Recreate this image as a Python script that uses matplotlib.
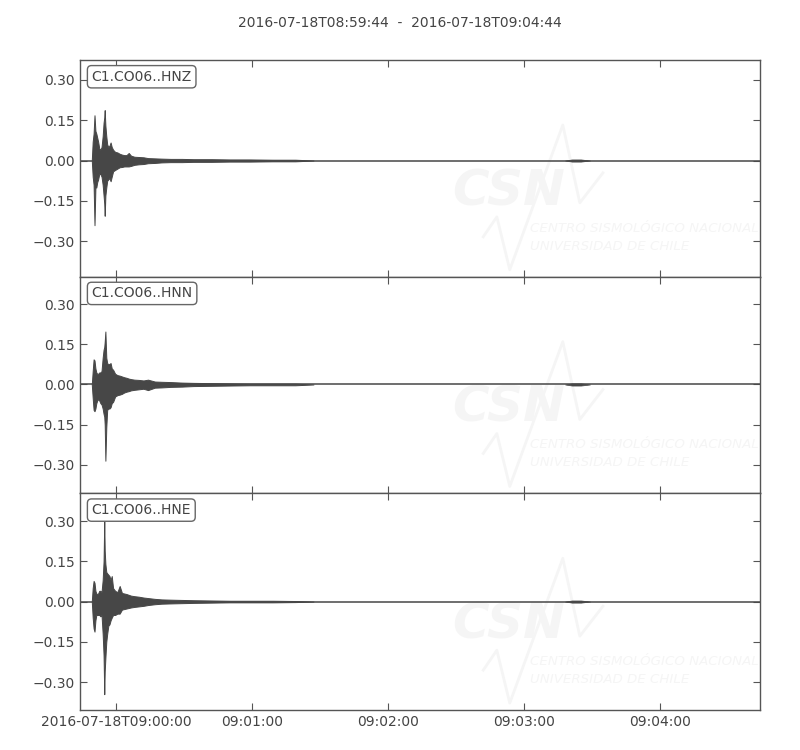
import datetime as dt
import matplotlib
matplotlib.use("Agg")
import matplotlib.pyplot as plt
import matplotlib.dates as mdates

# --- data ----------------------------------------------------------------
t0 = dt.datetime(2016, 7, 18, 8, 59, 44)
trace_len_s = 300
channels = ["C1.CO06..HNZ", "C1.CO06..HNN", "C1.CO06..HNE"]

# envelope sample times, seconds after t0
env_t = [5.2, 5.6, 6.0, 6.4, 6.8, 7.2, 7.6, 8.0, 8.5, 9.0, 9.5, 10.0, 10.4, 10.7,
         10.9, 11.2, 11.6, 12.0, 12.5, 13.0, 13.5, 14.0, 14.6, 15.5, 16.5, 17.5,
         18.5, 19.5, 20.5, 21.5, 22.5, 24, 26, 28, 30, 33, 36, 40, 45, 50, 58,
         66, 75, 85, 95, 103]

hnz_hi = [0, 0.07, 0.10, 0.168, 0.11, 0.10, 0.085, 0.07, 0.045, 0.04, 0.05, 0.09,
          0.14, 0.16, 0.187, 0.13, 0.09, 0.06, 0.05, 0.055, 0.067, 0.05, 0.04,
          0.032, 0.03, 0.025, 0.022, 0.02, 0.02, 0.028, 0.018, 0.014, 0.013,
          0.012, 0.009, 0.008, 0.007, 0.006, 0.006, 0.005, 0.005, 0.004, 0.004,
          0.003, 0.003, 0]
hnz_lo = [0, -0.06, -0.09, -0.24, -0.10, -0.10, -0.08, -0.07, -0.05, -0.05, -0.06,
          -0.09, -0.13, -0.16, -0.205, -0.13, -0.10, -0.075, -0.07, -0.065, -0.077,
          -0.06, -0.04, -0.035, -0.03, -0.025, -0.024, -0.022, -0.022, -0.022,
          -0.02, -0.016, -0.014, -0.013, -0.01, -0.009, -0.007, -0.006, -0.006,
          -0.005, -0.005, -0.004, -0.004, -0.003, -0.003, 0]

hnn_hi = [0, 0.05, 0.094, 0.09, 0.06, 0.045, 0.04, 0.04, 0.045, 0.045, 0.05, 0.10,
          0.13, 0.14, 0.16, 0.198, 0.10, 0.08, 0.075, 0.077, 0.08, 0.06, 0.055,
          0.04, 0.035, 0.033, 0.03, 0.027, 0.025, 0.022, 0.02, 0.018, 0.017,
          0.015, 0.018, 0.011, 0.01, 0.009, 0.007, 0.006, 0.005, 0.004, 0.003,
          0.003, 0.003, 0]
hnn_lo = [0, -0.05, -0.095, -0.10, -0.09, -0.07, -0.06, -0.055, -0.06, -0.07,
          -0.075, -0.09, -0.11, -0.12, -0.15, -0.285, -0.16, -0.095, -0.09, -0.09,
          -0.085, -0.07, -0.065, -0.045, -0.04, -0.038, -0.035, -0.03, -0.027,
          -0.025, -0.022, -0.02, -0.018, -0.016, -0.021, -0.012, -0.011, -0.009,
          -0.008, -0.006, -0.005, -0.004, -0.003, -0.003, -0.003, 0]

hne_hi = [0, 0.05, 0.077, 0.07, 0.04, 0.03, 0.028, 0.03, 0.04, 0.04, 0.035, 0.08,
          0.15, 0.30, 0.19, 0.14, 0.11, 0.105, 0.10, 0.095, 0.08, 0.095, 0.05,
          0.04, 0.035, 0.058, 0.032, 0.03, 0.028, 0.025, 0.022, 0.02, 0.018,
          0.015, 0.013, 0.01, 0.008, 0.007, 0.006, 0.005, 0.004, 0.003, 0.003,
          0.003, 0.002, 0]
hne_lo = [0, -0.06, -0.10, -0.112, -0.07, -0.05, -0.05, -0.05, -0.05, -0.055,
          -0.05, -0.12, -0.20, -0.345, -0.26, -0.21, -0.15, -0.12, -0.09, -0.085,
          -0.07, -0.06, -0.05, -0.05, -0.045, -0.045, -0.03, -0.028, -0.026,
          -0.024, -0.022, -0.02, -0.018, -0.016, -0.013, -0.01, -0.008, -0.007,
          -0.006, -0.005, -0.004, -0.003, -0.003, -0.003, -0.002, 0]

# small late wiggle near 09:03:20
late_t = [214, 217, 221, 225]
late_amp = [0, 0.004, 0.004, 0]

env_hi = [hnz_hi, hnn_hi, hne_hi]
env_lo = [hnz_lo, hnn_lo, hne_lo]
ylims = [(-0.431, 0.373), (-0.407, 0.403), (-0.404, 0.403)]

yticks = [-0.30, -0.15, 0.00, 0.15, 0.30]
xtick_times = [dt.datetime(2016, 7, 18, 9, m, 0) for m in range(0, 5)]
xtick_labels = ["2016-07-18T09:00:00", "09:01:00", "09:02:00", "09:03:00", "09:04:00"]

# --- style ---------------------------------------------------------------
ink = "#444444"
trace_col = "#474747"
wm_col = "#f5f5f5"
plt.rcParams["font.family"] = ["DejaVu Sans"]
plt.rcParams["font.size"] = 10
plt.rcParams["text.color"] = ink
plt.rcParams["axes.edgecolor"] = "#555555"
plt.rcParams["xtick.color"] = "#555555"
plt.rcParams["ytick.color"] = "#555555"
plt.rcParams["xtick.labelcolor"] = ink
plt.rcParams["ytick.labelcolor"] = ink


def secs(s):
    return [t0 + dt.timedelta(seconds=v) for v in s]


def watermark(ax):
    kw = dict(transform=ax.transAxes, color=wm_col, clip_on=True, zorder=0)
    ax.text(0.548, 0.33, "CSN", fontsize=36, fontweight="bold", style="italic", **kw)
    ax.plot([0.593, 0.613, 0.632, 0.710, 0.735, 0.769],
            [0.184, 0.276, 0.032, 0.700, 0.341, 0.479], lw=2.0, **kw)
    ax.text(0.662, 0.207, "CENTRO SISMOLÓGICO NACIONAL", fontsize=9.6,
            style="italic", **kw)
    ax.text(0.662, 0.124, "UNIVERSIDAD DE CHILE", fontsize=9.6, style="italic", **kw)


fig, axes = plt.subplots(3, 1, figsize=(8, 7.5), dpi=100, sharex=True)
fig.subplots_adjust(left=0.1, right=0.95, top=0.92, bottom=0.0533, hspace=0)

for i, ax in enumerate(axes):
    watermark(ax)
    ax.axhline(0, color=trace_col, lw=1.1, zorder=2)
    ax.fill_between(secs(env_t), env_lo[i], env_hi[i], color=trace_col,
                    lw=0.7, edgecolor=trace_col, zorder=3)
    ax.fill_between(secs(late_t), [-a for a in late_amp], late_amp,
                    color=trace_col, lw=0.5, zorder=3)
    ax.set_ylim(*ylims[i])
    ax.set_yticks(yticks)
    ax.set_yticklabels([("%.2f" % v).replace("-", "\u2212") for v in yticks])
    ax.tick_params(direction="in", length=5, width=0.8, top=True, right=True)
    ax.text(0.017, 0.955, channels[i], transform=ax.transAxes, va="top",
            ha="left", fontsize=10, color=ink, zorder=5,
            bbox=dict(boxstyle="round,pad=0.3", fc="white", ec="#666666", lw=1))
    for s in ax.spines.values():
        s.set_linewidth(1.0)

axes[-1].set_xlim(t0, t0 + dt.timedelta(seconds=trace_len_s))
axes[-1].set_xticks(mdates.date2num(xtick_times))
axes[-1].set_xticklabels(xtick_labels)
for ax in axes[:-1]:
    ax.tick_params(labelbottom=False)

fig.suptitle("2016-07-18T08:59:44  -  2016-07-18T09:04:44", y=0.979, fontsize=10,
             color=ink)

fig.savefig("out.png", dpi=100)
